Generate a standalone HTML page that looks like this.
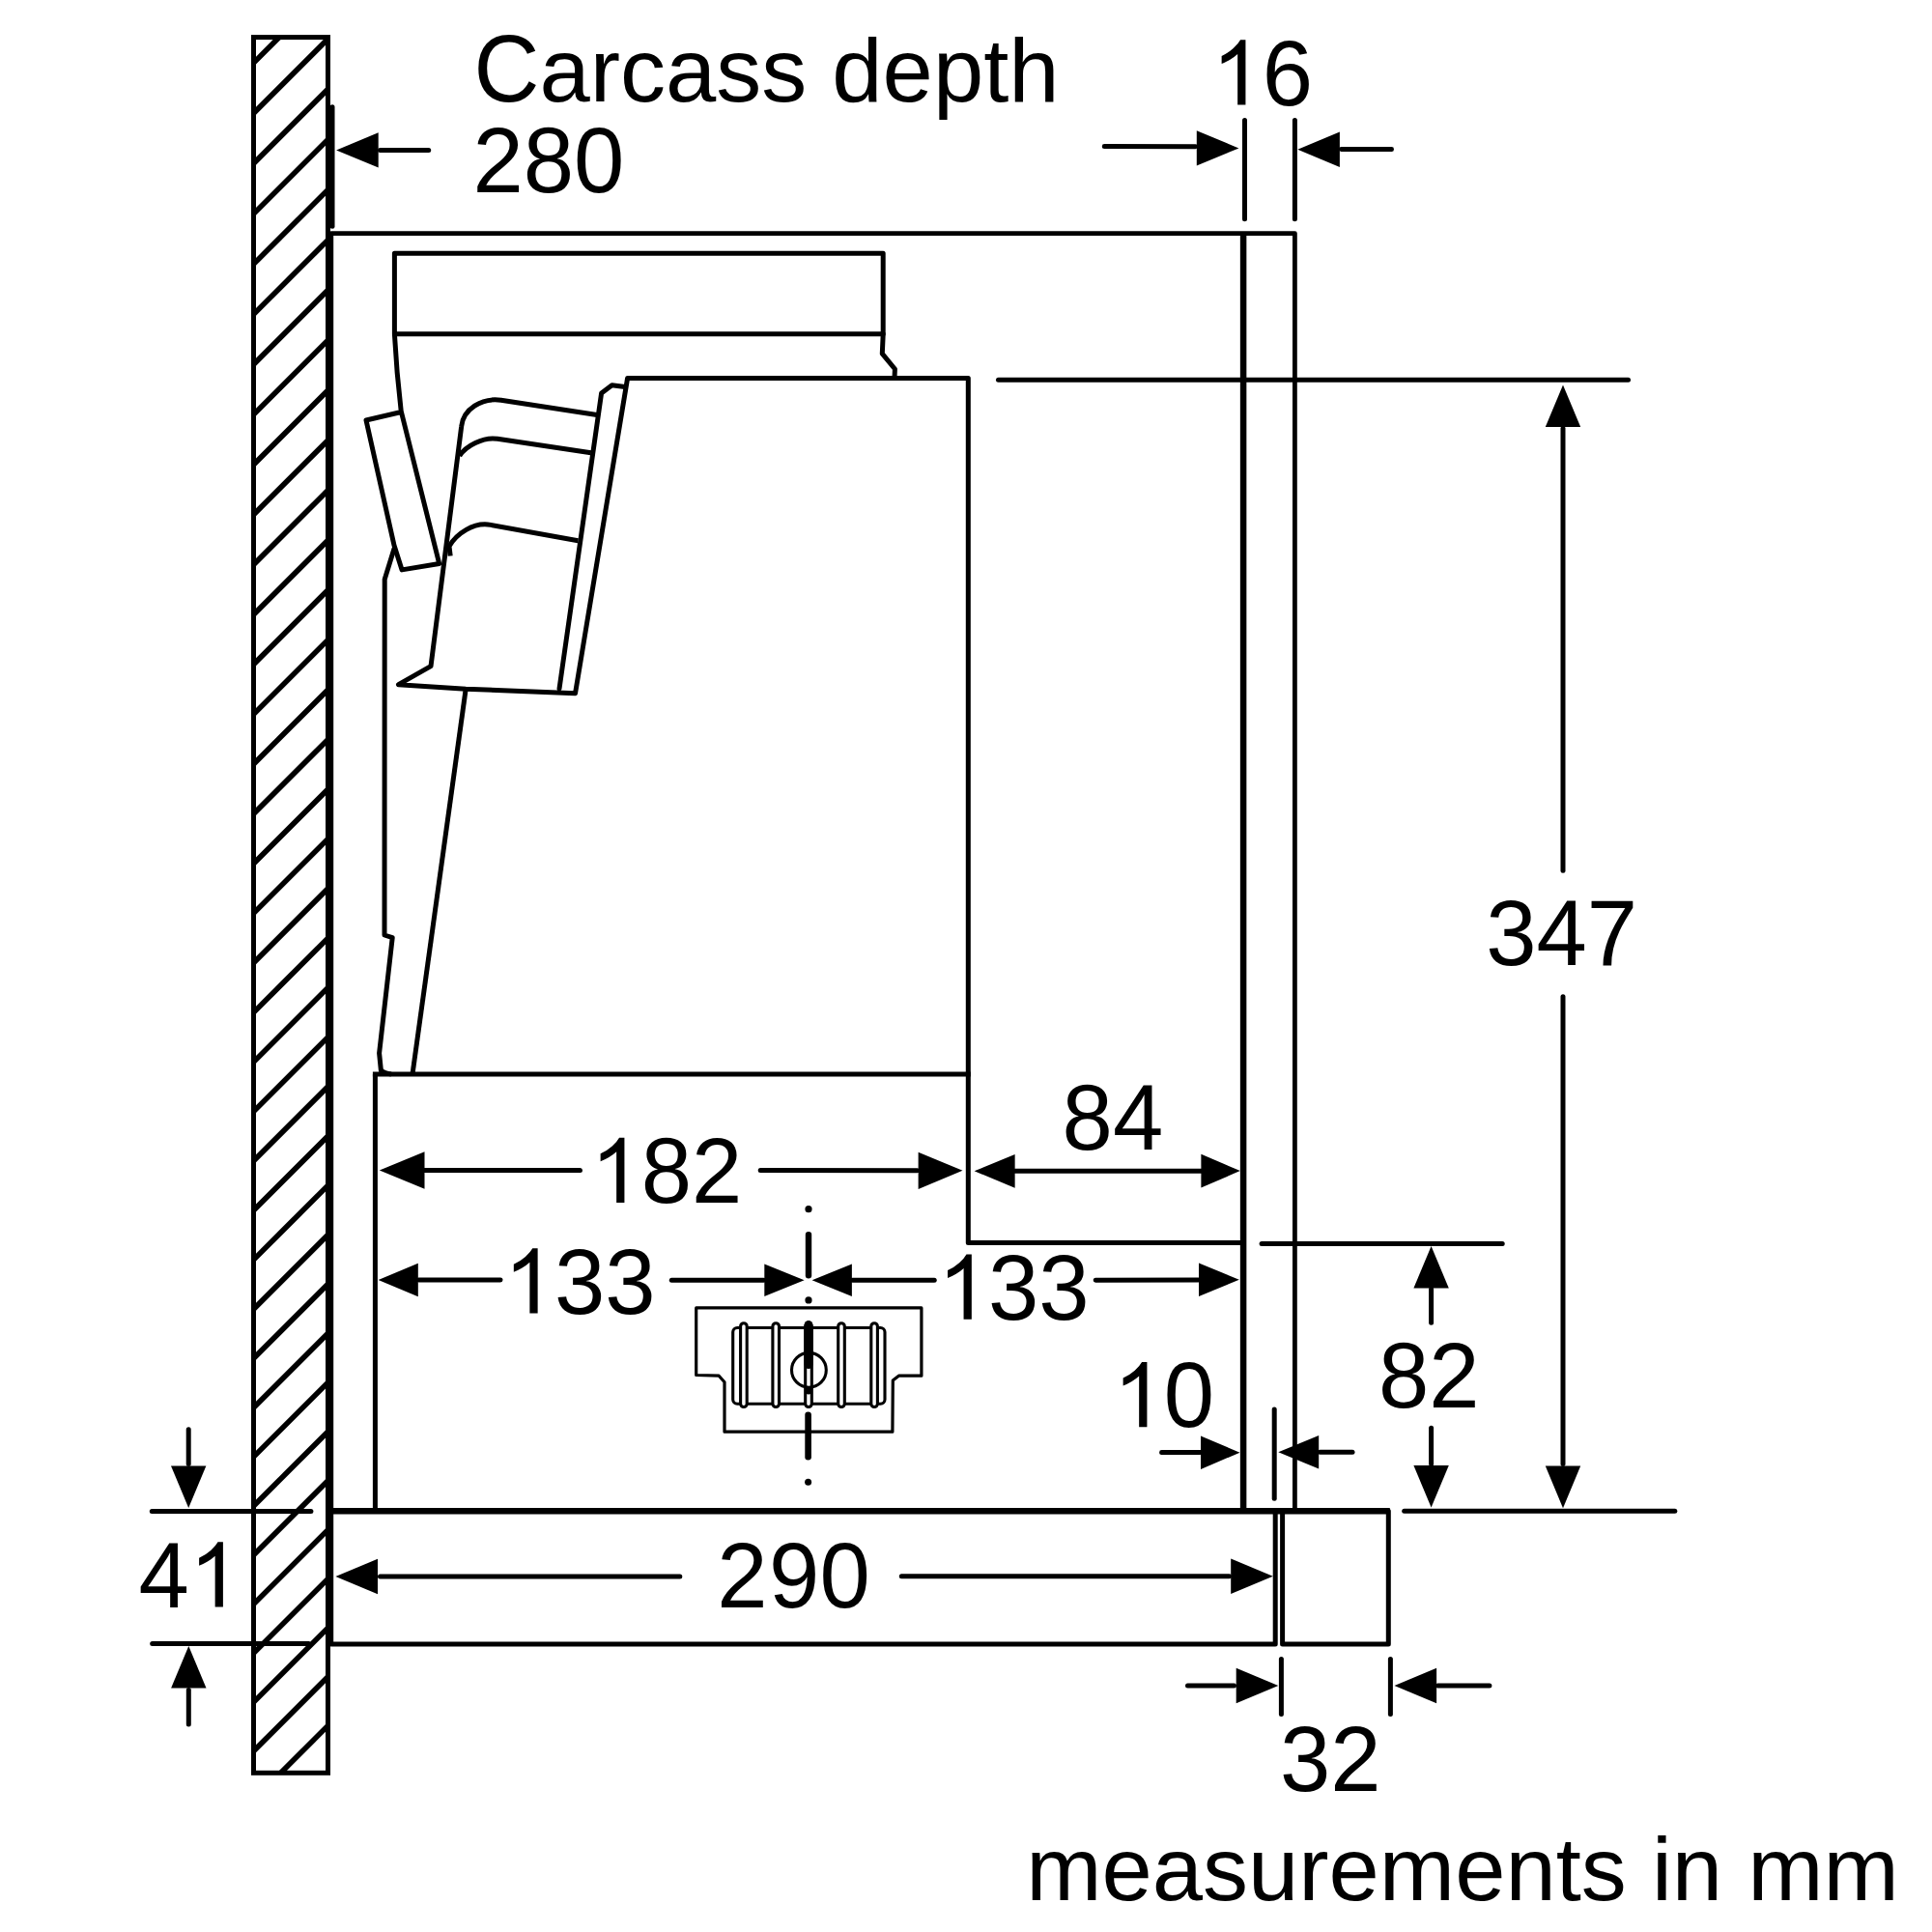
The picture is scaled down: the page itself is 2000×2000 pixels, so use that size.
<!DOCTYPE html><html><head><meta charset="utf-8"><style>html,body{margin:0;padding:0;background:#fff;}svg{display:block}text{font-family:"Liberation Sans",sans-serif;fill:#000}</style></head><body>
<svg width="2000" height="2000" viewBox="0 0 2000 2000">
<rect width="2000" height="2000" fill="#fff"/>
<g stroke="#000" fill="none">
<clipPath id="wc"><rect x="262.5" y="38.6" width="77.0" height="1796.7"/></clipPath>
<g clip-path="url(#wc)">
<line x1="221.0" y1="106.6" x2="381.0" y2="-53.4" stroke-width="5.6" stroke-linecap="butt"/>
<line x1="221.0" y1="158.7" x2="381.0" y2="-1.3" stroke-width="5.6" stroke-linecap="butt"/>
<line x1="221.0" y1="210.8" x2="381.0" y2="50.8" stroke-width="5.6" stroke-linecap="butt"/>
<line x1="221.0" y1="262.9" x2="381.0" y2="102.9" stroke-width="5.6" stroke-linecap="butt"/>
<line x1="221.0" y1="314.9" x2="381.0" y2="154.9" stroke-width="5.6" stroke-linecap="butt"/>
<line x1="221.0" y1="366.9" x2="381.0" y2="206.9" stroke-width="5.6" stroke-linecap="butt"/>
<line x1="221.0" y1="418.8" x2="381.0" y2="258.8" stroke-width="5.6" stroke-linecap="butt"/>
<line x1="221.0" y1="470.6" x2="381.0" y2="310.6" stroke-width="5.6" stroke-linecap="butt"/>
<line x1="221.0" y1="522.5" x2="381.0" y2="362.5" stroke-width="5.6" stroke-linecap="butt"/>
<line x1="221.0" y1="574.2" x2="381.0" y2="414.2" stroke-width="5.6" stroke-linecap="butt"/>
<line x1="221.0" y1="626.0" x2="381.0" y2="466.0" stroke-width="5.6" stroke-linecap="butt"/>
<line x1="221.0" y1="677.7" x2="381.0" y2="517.7" stroke-width="5.6" stroke-linecap="butt"/>
<line x1="221.0" y1="729.3" x2="381.0" y2="569.3" stroke-width="5.6" stroke-linecap="butt"/>
<line x1="221.0" y1="780.9" x2="381.0" y2="620.9" stroke-width="5.6" stroke-linecap="butt"/>
<line x1="221.0" y1="832.5" x2="381.0" y2="672.5" stroke-width="5.6" stroke-linecap="butt"/>
<line x1="221.0" y1="884.0" x2="381.0" y2="724.0" stroke-width="5.6" stroke-linecap="butt"/>
<line x1="221.0" y1="935.5" x2="381.0" y2="775.5" stroke-width="5.6" stroke-linecap="butt"/>
<line x1="221.0" y1="986.9" x2="381.0" y2="826.9" stroke-width="5.6" stroke-linecap="butt"/>
<line x1="221.0" y1="1038.3" x2="381.0" y2="878.3" stroke-width="5.6" stroke-linecap="butt"/>
<line x1="221.0" y1="1089.6" x2="381.0" y2="929.6" stroke-width="5.6" stroke-linecap="butt"/>
<line x1="221.0" y1="1140.9" x2="381.0" y2="980.9" stroke-width="5.6" stroke-linecap="butt"/>
<line x1="221.0" y1="1192.1" x2="381.0" y2="1032.1" stroke-width="5.6" stroke-linecap="butt"/>
<line x1="221.0" y1="1243.3" x2="381.0" y2="1083.3" stroke-width="5.6" stroke-linecap="butt"/>
<line x1="221.0" y1="1294.5" x2="381.0" y2="1134.5" stroke-width="5.6" stroke-linecap="butt"/>
<line x1="221.0" y1="1345.6" x2="381.0" y2="1185.6" stroke-width="5.6" stroke-linecap="butt"/>
<line x1="221.0" y1="1396.7" x2="381.0" y2="1236.7" stroke-width="5.6" stroke-linecap="butt"/>
<line x1="221.0" y1="1447.7" x2="381.0" y2="1287.7" stroke-width="5.6" stroke-linecap="butt"/>
<line x1="221.0" y1="1498.7" x2="381.0" y2="1338.7" stroke-width="5.6" stroke-linecap="butt"/>
<line x1="221.0" y1="1549.6" x2="381.0" y2="1389.6" stroke-width="5.6" stroke-linecap="butt"/>
<line x1="221.0" y1="1600.5" x2="381.0" y2="1440.5" stroke-width="5.6" stroke-linecap="butt"/>
<line x1="221.0" y1="1651.3" x2="381.0" y2="1491.3" stroke-width="5.6" stroke-linecap="butt"/>
<line x1="221.0" y1="1702.1" x2="381.0" y2="1542.1" stroke-width="5.6" stroke-linecap="butt"/>
<line x1="221.0" y1="1752.9" x2="381.0" y2="1592.9" stroke-width="5.6" stroke-linecap="butt"/>
<line x1="221.0" y1="1803.6" x2="381.0" y2="1643.6" stroke-width="5.6" stroke-linecap="butt"/>
<line x1="221.0" y1="1854.3" x2="381.0" y2="1694.3" stroke-width="5.6" stroke-linecap="butt"/>
<line x1="221.0" y1="1904.9" x2="381.0" y2="1744.9" stroke-width="5.6" stroke-linecap="butt"/>
<line x1="221.0" y1="1955.5" x2="381.0" y2="1795.5" stroke-width="5.6" stroke-linecap="butt"/>
</g>
<rect x="262.5" y="38.6" width="77.0" height="1796.7" stroke-width="5"/>
<path d="M342.8 1702 L342.8 241.6 L1340.4 241.6 L1340.4 1564.3" stroke-width="4.8" stroke-linejoin="round" stroke-linecap="butt" fill="none"/>
<line x1="344.0" y1="110.7" x2="344.0" y2="234.3" stroke-width="5" stroke-linecap="round"/>
<line x1="1287.1" y1="241.6" x2="1287.1" y2="1564.3" stroke-width="6.5" stroke-linecap="butt"/>
<rect x="408.4" y="262.3" width="505.8" height="83.5" stroke-width="5" stroke-linejoin="round"/>
<path d="M914.2 345.8 L913.3 366.1 L926.4 382.0 L926.0 391.5" stroke-width="5" stroke-linejoin="round" stroke-linecap="round" fill="none"/>
<path d="M408.4 345.8 Q410.5 385 415.2 425.5 L454.7 583.5 L416.1 589.9 L408 564.5 L379 435 L414.3 426.8" stroke-width="5" stroke-linejoin="round" stroke-linecap="butt" fill="none"/>
<path d="M408.0 568.1 L398.2 599.8 L398.0 968.0 L406.2 970.7 L392.6 1090.2 L394.4 1108.3" stroke-width="5" stroke-linejoin="round" stroke-linecap="round" fill="none"/>
<path d="M394.4 1108.3 Q398 1111 405 1112" stroke-width="5" stroke-linejoin="round" stroke-linecap="butt" fill="none"/>
<path d="M618 429.5 L518.7 414.3 C498.5 411.5 479.5 423.5 477.7 441.3 L446 689.7 L412.5 708.7 L482.2 713.2 L595.5 717.8 L649.6 391.5 L1002.3 391.5 L1002.3 1286.4 L1287.2 1286.4" stroke-width="5" stroke-linejoin="round" stroke-linecap="butt" fill="none"/>
<path d="M475.7 471.8 C482.1 461.6 500 452.1 515 454.3 L611.8 468.7" stroke-width="5" stroke-linejoin="round" stroke-linecap="butt" fill="none"/>
<path d="M466.2 575.5 L465 565.5 C472.5 552.5 490.3 540.1 508 543.4 L598.4 559.8" stroke-width="5" stroke-linejoin="round" stroke-linecap="butt" fill="none"/>
<path d="M579.0 713.0 L622.6 407.0 L633.5 398.7 L647.0 400.5" stroke-width="5" stroke-linejoin="round" stroke-linecap="round" fill="none"/>
<line x1="482.2" y1="713.2" x2="427.0" y2="1112.0" stroke-width="5" stroke-linecap="butt"/>
<line x1="388.4" y1="1112.0" x2="1002.3" y2="1112.0" stroke-width="5" stroke-linecap="square"/>
<line x1="388.4" y1="1112.0" x2="388.4" y2="1564.3" stroke-width="5" stroke-linecap="butt"/>
<line x1="342.8" y1="1564.3" x2="1438.8" y2="1564.3" stroke-width="6.5" stroke-linecap="butt"/>
<path d="M342.8 1701.9 L1320.2 1701.9 L1320.2 1564.3" stroke-width="5" stroke-linejoin="round" stroke-linecap="round" fill="none"/>
<path d="M1327.6 1564.3 L1437.3 1564.3 L1437.3 1701.9 L1327.6 1701.9 L1327.6 1564.3" stroke-width="5" stroke-linejoin="round" stroke-linecap="round" fill="none"/>
<path d="M348.1 155.4 L391.7 137.2 L391.7 173.6Z" fill="#000" stroke="none"/>
<line x1="393.5" y1="155.4" x2="443.7" y2="155.4" stroke-width="5" stroke-linecap="round"/>
<line x1="1288.5" y1="124.4" x2="1288.5" y2="226.8" stroke-width="5" stroke-linecap="round"/>
<line x1="1340.4" y1="124.4" x2="1340.4" y2="226.8" stroke-width="5" stroke-linecap="round"/>
<line x1="1143.3" y1="151.6" x2="1237.5" y2="151.8" stroke-width="5" stroke-linecap="round"/>
<path d="M1282.4 153.4 L1238.8 135.2 L1238.8 171.6Z" fill="#000" stroke="none"/>
<path d="M1343.3 154.7 L1386.9 136.5 L1386.9 172.9Z" fill="#000" stroke="none"/>
<line x1="1388.5" y1="154.6" x2="1440.5" y2="154.4" stroke-width="5" stroke-linecap="round"/>
<line x1="1033.5" y1="393.3" x2="1685.5" y2="393.3" stroke-width="5" stroke-linecap="round"/>
<path d="M1618.0 398.4 L1599.8 442.0 L1636.2 442.0Z" fill="#000" stroke="none"/>
<line x1="1618.0" y1="443.5" x2="1618.0" y2="901.3" stroke-width="5" stroke-linecap="round"/>
<line x1="1618.0" y1="1031.8" x2="1618.0" y2="1515.5" stroke-width="5" stroke-linecap="round"/>
<path d="M1618.0 1561.2 L1599.8 1517.6 L1636.2 1517.6Z" fill="#000" stroke="none"/>
<line x1="1453.7" y1="1564.3" x2="1733.8" y2="1564.3" stroke-width="5" stroke-linecap="round"/>
<path d="M1008.6 1212.3 L1050.6 1194.9 L1050.6 1229.7Z" fill="#000" stroke="none"/>
<path d="M1283.8 1212.1 L1243.4 1194.7 L1243.4 1229.5Z" fill="#000" stroke="none"/>
<line x1="1049.0" y1="1212.2" x2="1245.0" y2="1212.2" stroke-width="5" stroke-linecap="butt"/>
<path d="M392.8 1211.5 L439.5 1192.3 L439.5 1230.7Z" fill="#000" stroke="none"/>
<line x1="438.5" y1="1211.5" x2="600.5" y2="1211.4" stroke-width="5" stroke-linecap="round"/>
<line x1="787.2" y1="1211.6" x2="949.5" y2="1211.7" stroke-width="5" stroke-linecap="round"/>
<path d="M996.5 1211.8 L950.6 1192.7 L950.6 1230.9Z" fill="#000" stroke="none"/>
<path d="M391.6 1325.0 L432.8 1307.8 L432.8 1342.2Z" fill="#000" stroke="none"/>
<line x1="433.5" y1="1325.0" x2="518.0" y2="1325.1" stroke-width="5" stroke-linecap="round"/>
<line x1="695.3" y1="1325.3" x2="790.5" y2="1325.3" stroke-width="5" stroke-linecap="round"/>
<path d="M832.6 1325.3 L791.3 1308.5 L791.3 1342.1Z" fill="#000" stroke="none"/>
<path d="M840.6 1325.2 L881.9 1308.4 L881.9 1342.0Z" fill="#000" stroke="none"/>
<line x1="882.5" y1="1325.2" x2="967.2" y2="1325.2" stroke-width="5" stroke-linecap="round"/>
<line x1="1134.2" y1="1325.2" x2="1240.5" y2="1325.0" stroke-width="5" stroke-linecap="round"/>
<path d="M1282.8 1324.7 L1241.0 1307.5 L1241.0 1341.9Z" fill="#000" stroke="none"/>
<line x1="1319.2" y1="1459.0" x2="1319.2" y2="1551.3" stroke-width="5" stroke-linecap="round"/>
<line x1="1202.6" y1="1503.5" x2="1242.5" y2="1503.6" stroke-width="5" stroke-linecap="round"/>
<path d="M1283.5 1503.7 L1243.0 1486.4 L1243.0 1521.0Z" fill="#000" stroke="none"/>
<path d="M1323.3 1503.2 L1365.2 1485.9 L1365.2 1520.5Z" fill="#000" stroke="none"/>
<line x1="1366.5" y1="1503.2" x2="1400.0" y2="1503.2" stroke-width="5" stroke-linecap="round"/>
<line x1="1306.1" y1="1287.5" x2="1555.2" y2="1287.5" stroke-width="5" stroke-linecap="round"/>
<path d="M1481.6 1290.0 L1463.4 1333.6 L1499.8 1333.6Z" fill="#000" stroke="none"/>
<line x1="1481.6" y1="1334.5" x2="1481.6" y2="1369.2" stroke-width="5" stroke-linecap="round"/>
<line x1="1481.6" y1="1478.3" x2="1481.6" y2="1515.5" stroke-width="5" stroke-linecap="round"/>
<path d="M1481.6 1560.6 L1463.4 1517.0 L1499.8 1517.0Z" fill="#000" stroke="none"/>
<path d="M347.4 1632.0 L391.0 1613.8 L391.0 1650.2Z" fill="#000" stroke="none"/>
<line x1="393.5" y1="1632.0" x2="703.8" y2="1632.0" stroke-width="5" stroke-linecap="round"/>
<line x1="933.3" y1="1631.7" x2="1272.5" y2="1631.7" stroke-width="5" stroke-linecap="round"/>
<path d="M1317.8 1631.7 L1274.2 1613.5 L1274.2 1649.9Z" fill="#000" stroke="none"/>
<line x1="157.3" y1="1564.4" x2="321.9" y2="1564.4" stroke-width="5" stroke-linecap="round"/>
<line x1="157.7" y1="1701.5" x2="319.5" y2="1701.5" stroke-width="5" stroke-linecap="round"/>
<line x1="195.2" y1="1479.7" x2="195.2" y2="1515.5" stroke-width="5" stroke-linecap="round"/>
<path d="M195.2 1561.0 L177.0 1517.4 L213.4 1517.4Z" fill="#000" stroke="none"/>
<path d="M195.3 1704.0 L177.1 1747.6 L213.5 1747.6Z" fill="#000" stroke="none"/>
<line x1="195.3" y1="1749.5" x2="195.3" y2="1785.0" stroke-width="5" stroke-linecap="round"/>
<line x1="1326.4" y1="1717.4" x2="1326.4" y2="1774.5" stroke-width="5" stroke-linecap="round"/>
<line x1="1439.4" y1="1717.4" x2="1439.4" y2="1774.5" stroke-width="5" stroke-linecap="round"/>
<line x1="1229.5" y1="1745.0" x2="1277.5" y2="1745.0" stroke-width="5" stroke-linecap="round"/>
<path d="M1323.3 1745.0 L1279.7 1726.8 L1279.7 1763.2Z" fill="#000" stroke="none"/>
<path d="M1443.5 1745.0 L1487.1 1726.8 L1487.1 1763.2Z" fill="#000" stroke="none"/>
<line x1="1488.5" y1="1745.0" x2="1541.9" y2="1745.0" stroke-width="5" stroke-linecap="round"/>
<circle cx="837.0" cy="1251.7" r="3.6" fill="#000" stroke="none"/>
<line x1="837.0" y1="1278.1" x2="837.0" y2="1320.3" stroke-width="6.4" stroke-linecap="round"/>
<circle cx="837.0" cy="1345.9" r="3.6" fill="#000" stroke="none"/>
<path d="M720.7 1353.9 L953.9 1353.9 L953.9 1424.2 L930.4 1424.2 L924.3 1429.0 L923.9 1482.2 L750.0 1482.2 L750.0 1430.7 L744.2 1424.2 L720.7 1423.5 Z" stroke-width="3.2" stroke-linejoin="round" stroke-linecap="round" fill="none"/>
<rect x="758.7" y="1374.5" width="157.3" height="78.7" rx="4.5" ry="4.5" stroke-width="3.1" fill="#fff"/>
<rect x="766.6" y="1369.7" width="6.6" height="86.8" rx="3.3" ry="3.3" stroke-width="3.1" fill="#fff"/>
<rect x="799.9" y="1369.7" width="6.6" height="86.8" rx="3.3" ry="3.3" stroke-width="3.1" fill="#fff"/>
<rect x="867.7" y="1369.7" width="6.6" height="86.8" rx="3.3" ry="3.3" stroke-width="3.1" fill="#fff"/>
<rect x="901.8" y="1369.7" width="6.6" height="86.8" rx="3.3" ry="3.3" stroke-width="3.1" fill="#fff"/>
<rect x="833.7" y="1369.7" width="6.6" height="86.8" rx="3.3" ry="3.3" stroke-width="3.1" fill="#fff"/>
<circle cx="837.4" cy="1418.3" r="17.9" stroke-width="3.1" fill="none"/>
<line x1="837.0" y1="1371.3" x2="837.0" y2="1412.7" stroke-width="8.6" stroke-linecap="round"/>
<circle cx="837.0" cy="1440" r="3.4" fill="#000" stroke="none"/>
<line x1="836.6" y1="1464.7" x2="836.6" y2="1508.2" stroke-width="6.6" stroke-linecap="round"/>
<circle cx="836.6" cy="1534.2" r="3.5" fill="#000" stroke="none"/>
</g>
<g fill="#000" stroke="none">
<text transform="translate(490.5 105.1) scale(1 1.04)" font-size="94.0">C</text>
<text transform="translate(558.38 105.1) scale(1 0.978)" font-size="94.0">arcass depth</text>
<text transform="translate(489.40 198.90) scale(1 1.0320)" font-size="94.0">2</text>
<text transform="translate(541.68 198.90) scale(1 1.0320)" font-size="94.0">8</text>
<text transform="translate(593.96 198.90) scale(1 1.0320)" font-size="94.0">0</text>
<path transform="translate(1254.40 108.60) scale(0.04590 -0.04590)" d="M763 0L583 0L583 1147Q518 1085 413 1023Q308 961 223 930L223 1104Q373 1175 486 1276Q599 1377 646 1466L763 1466Z" fill="#000" stroke="none"/>
<text transform="translate(1306.68 108.60) scale(1 1.0320)" font-size="94.0">6</text>
<text transform="translate(1538.30 998.80) scale(1 1.0320)" font-size="94.0">3</text>
<text transform="translate(1590.58 998.80) scale(1 1.0320)" font-size="94.0">4</text>
<text transform="translate(1642.86 998.80) scale(1 1.0320)" font-size="94.0">7</text>
<text transform="translate(1099.60 1190.00) scale(1 1.0320)" font-size="94.0">8</text>
<text transform="translate(1151.88 1190.00) scale(1 1.0320)" font-size="94.0">4</text>
<path transform="translate(611.40 1245.00) scale(0.04590 -0.04590)" d="M763 0L583 0L583 1147Q518 1085 413 1023Q308 961 223 930L223 1104Q373 1175 486 1276Q599 1377 646 1466L763 1466Z" fill="#000" stroke="none"/>
<text transform="translate(663.68 1245.00) scale(1 1.0320)" font-size="94.0">8</text>
<text transform="translate(715.96 1245.00) scale(1 1.0320)" font-size="94.0">2</text>
<path transform="translate(521.60 1359.50) scale(0.04590 -0.04590)" d="M763 0L583 0L583 1147Q518 1085 413 1023Q308 961 223 930L223 1104Q373 1175 486 1276Q599 1377 646 1466L763 1466Z" fill="#000" stroke="none"/>
<text transform="translate(573.88 1359.50) scale(1 1.0320)" font-size="94.0">3</text>
<text transform="translate(626.16 1359.50) scale(1 1.0320)" font-size="94.0">3</text>
<path transform="translate(970.80 1365.70) scale(0.04590 -0.04590)" d="M763 0L583 0L583 1147Q518 1085 413 1023Q308 961 223 930L223 1104Q373 1175 486 1276Q599 1377 646 1466L763 1466Z" fill="#000" stroke="none"/>
<text transform="translate(1023.08 1365.70) scale(1 1.0320)" font-size="94.0">3</text>
<text transform="translate(1075.36 1365.70) scale(1 1.0320)" font-size="94.0">3</text>
<path transform="translate(1152.40 1477.20) scale(0.04590 -0.04590)" d="M763 0L583 0L583 1147Q518 1085 413 1023Q308 961 223 930L223 1104Q373 1175 486 1276Q599 1377 646 1466L763 1466Z" fill="#000" stroke="none"/>
<text transform="translate(1204.68 1477.20) scale(1 1.0320)" font-size="94.0">0</text>
<text transform="translate(1426.90 1457.00) scale(1 1.0320)" font-size="94.0">8</text>
<text transform="translate(1479.18 1457.00) scale(1 1.0320)" font-size="94.0">2</text>
<text transform="translate(742.20 1664.40) scale(1 1.0320)" font-size="94.0">2</text>
<text transform="translate(796.00 1664.40) scale(1 1.0320)" font-size="94.0">9</text>
<text transform="translate(848.60 1664.40) scale(1 1.0320)" font-size="94.0">0</text>
<text transform="translate(143.60 1663.50) scale(1 1.0320)" font-size="94.0">4</text>
<path transform="translate(195.88 1663.50) scale(0.04590 -0.04590)" d="M763 0L583 0L583 1147Q518 1085 413 1023Q308 961 223 930L223 1104Q373 1175 486 1276Q599 1377 646 1466L763 1466Z" fill="#000" stroke="none"/>
<text transform="translate(1325.00 1854.00) scale(1 1.0320)" font-size="94.0">3</text>
<text transform="translate(1377.28 1854.00) scale(1 1.0320)" font-size="94.0">2</text>
<text transform="translate(1062.2 1966.7) scale(1 0.982)" font-size="94.0">measurements in mm</text>
</g>
</svg></body></html>
